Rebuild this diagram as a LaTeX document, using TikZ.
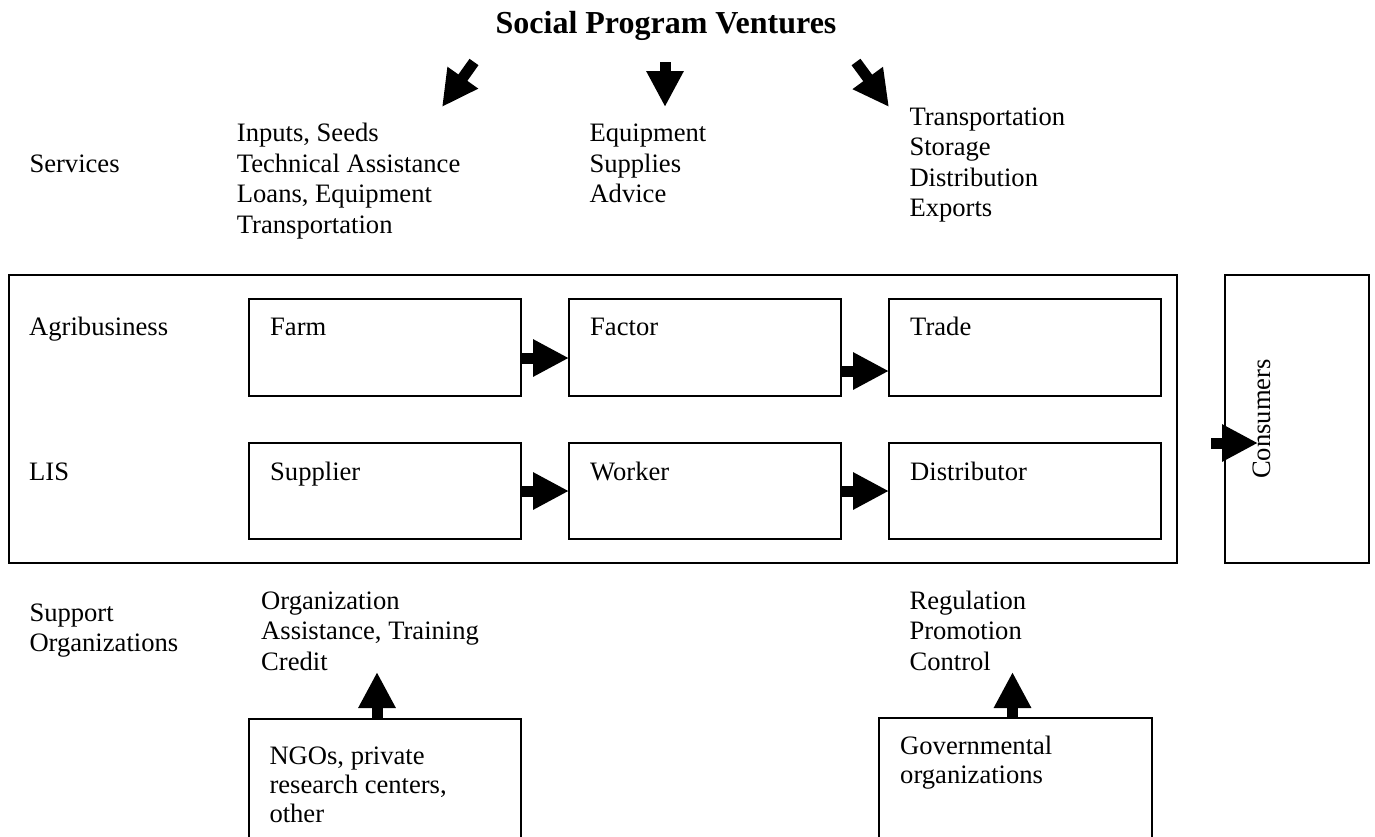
\documentclass[tikz,border=0pt]{standalone}
\usepackage{fontspec}
\setmainfont{Liberation Serif}
\usetikzlibrary{arrows.meta}
\begin{document}
\begin{tikzpicture}[x=1pt,y=-1pt,
  txt/.style={inner sep=0pt, anchor=base west, align=left, font=\fontsize{26.6}{30.5}\selectfont},
  box/.style={draw, line width=1.5pt, inner sep=0pt, outer sep=0pt, anchor=north west},
  barrow/.style={line width=11pt, -{Triangle[length=36pt,width=35pt]}},
]
\useasboundingbox (0,0) rectangle (1375,836);
\clip (0,0) rectangle (1375,836);

% title and services (multi-line nodes are placed by the baseline of their last line)
\node[inner sep=0pt, anchor=base, font=\bfseries\fontsize{32}{36}\selectfont] (title) at (666,33.3) {Social Program Ventures};
\node[txt] (services) at (29.3,172.7) {Services};
\node[txt] (s1) at (236.7,233.2) {Inputs, Seeds\\Technical Assistance\\Loans, Equipment\\Transportation};
\node[txt] (s2) at (589.3,202.7) {Equipment\\Supplies\\Advice};
\node[txt] (s3) at (909.3,216.5) {Transportation\\Storage\\Distribution\\Exports};

\coordinate (a1s) at (474,62); \coordinate (a1e) at (442,107);
\coordinate (a2s) at (665,62); \coordinate (a2e) at (665,107);
\coordinate (a3s) at (856,62); \coordinate (a3e) at (889,107);
\draw[barrow] (a1s) -- (a1e);
\draw[barrow] (a2s) -- (a2e);
\draw[barrow] (a3s) -- (a3e);

% outer chain box
\node[box, minimum width=1168pt, minimum height=288pt] (chain) at (9,275) {};
\node[box, minimum width=144pt, minimum height=288pt] (cons) at (1225,275) {};
\node[txt, anchor=center, rotate=90] (conslabel) at (1262,419) {Consumers};

\node[txt] (agri) at (29,335) {Agribusiness};
\node[txt] (lis) at (29,480) {LIS};

\node[box, minimum width=272pt, minimum height=97pt] (farm) at (249,299) {};
\node[box, minimum width=272pt, minimum height=97pt] (factor) at (569,299) {};
\node[box, minimum width=272pt, minimum height=97pt] (trade) at (889,299) {};
\node[box, minimum width=272pt, minimum height=96pt] (supplier) at (249,443) {};
\node[box, minimum width=272pt, minimum height=96pt] (worker) at (569,443) {};
\node[box, minimum width=272pt, minimum height=96pt] (distributor) at (889,443) {};

\node[txt] at ([shift={(21,36)}]farm.north west) {Farm};
\node[txt] at ([shift={(21,36)}]factor.north west) {Factor};
\node[txt] at ([shift={(21,36)}]trade.north west) {Trade};
\node[txt] at ([shift={(21,37)}]supplier.north west) {Supplier};
\node[txt] at ([shift={(21,37)}]worker.north west) {Worker};
\node[txt] at ([shift={(21,37)}]distributor.north west) {Distributor};

\draw[barrow] ([yshift=-10.5pt]farm.east) -- ([yshift=-10.5pt]factor.west);
\draw[barrow] ([yshift=-23.5pt]factor.east) -- ([yshift=-23.5pt]trade.west);
\draw[barrow] (supplier.east) -- (worker.west);
\draw[barrow] (worker.east) -- (distributor.west);

\coordinate (c1) at (1211,443); \coordinate (c2) at (1258,443);
\draw[barrow] (c1) -- (c2);

% support organizations
\node[txt] (support) at (29.3,651.7) {Support\\Organizations};
\node[txt] (orgs) at (261,670.3) {Organization\\Assistance, Training\\Credit};
\node[txt] (regs) at (909.3,670.3) {Regulation\\Promotion\\Control};

\node[box, minimum width=272pt, minimum height=140pt] (ngo) at (249,719) {};
\node[box, minimum width=273pt, minimum height=140pt] (gov) at (879,718) {};
\node[txt, font=\fontsize{26.6}{29.2}\selectfont] at (269.3,822.4) {NGOs, private\\research centers,\\other};
\node[txt, font=\fontsize{26.6}{29.2}\selectfont] at (900,783.5) {Governmental\\organizations};

\draw[barrow] (ngo.north -| 377,0) -- (377,672);
\draw[barrow] (gov.north -| 1012.5,0) -- (1012.5,672);
\end{tikzpicture}
\end{document}
